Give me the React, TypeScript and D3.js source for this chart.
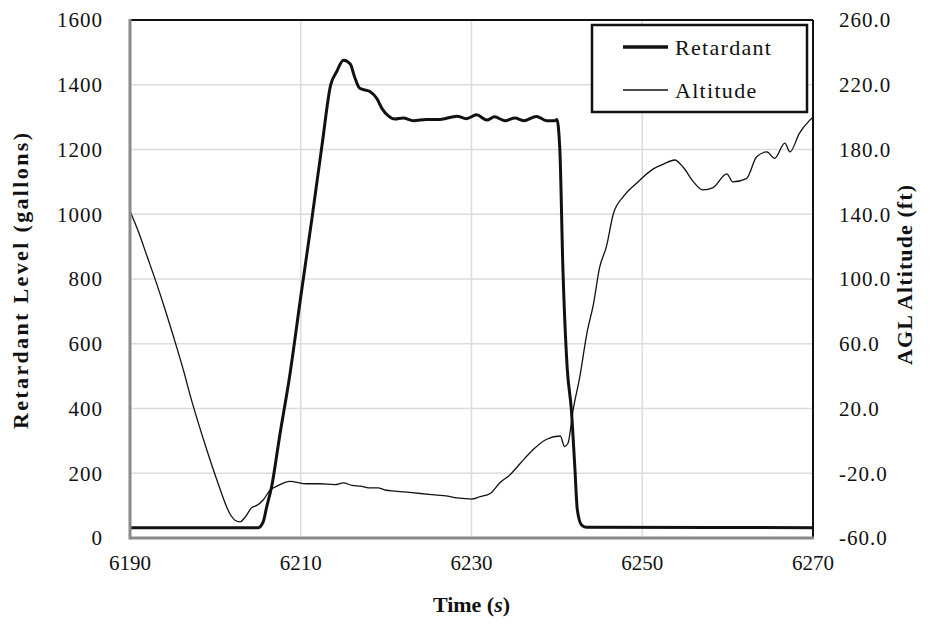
import React from 'react';
import * as d3 from 'd3';

// Retardant level (gallons) against time (s)
const retardantTime = [6190, 6205.0, 6205.6, 6206.0, 6206.6, 6207.5, 6208.7, 6210, 6211.3, 6212.5, 6213.5, 6214.2, 6215.0, 6215.8, 6216.3, 6216.9, 6218.1, 6218.9, 6219.5, 6220.3, 6221.0, 6222.0, 6223.2, 6224.7, 6226.3, 6228.3, 6229.4, 6230.6, 6231.8, 6232.7, 6233.9, 6235.1, 6236.1, 6237.6, 6238.8, 6239.8, 6240.0, 6240.35, 6240.7, 6241.2, 6241.7, 6242.1, 6242.4, 6242.9, 6243.5, 6270];
const retardantGallons = [32, 32, 50, 95, 160, 310, 500, 745, 985, 1215, 1399, 1440, 1476, 1464, 1425, 1389, 1379, 1358, 1327, 1303, 1294, 1297, 1289, 1293, 1293, 1303, 1295, 1307, 1291, 1301, 1289, 1297, 1289, 1302, 1289, 1289, 1293, 1198, 838, 529, 395, 220, 86, 40, 33, 32];

// AGL altitude (ft) against time (s)
const altitudeTime = [6190, 6191, 6192, 6193, 6194, 6195, 6196.4, 6197.0, 6198.6, 6200.3, 6201.7, 6202.3, 6202.9, 6203.5, 6204.3, 6204.8, 6205.6, 6206.4, 6207.4, 6208.7, 6210.7, 6212.2, 6214, 6215, 6216, 6217, 6218, 6219, 6220, 6221, 6222, 6223, 6224, 6225, 6226, 6227, 6228, 6229, 6230, 6231.0, 6232.2, 6233.3, 6234.5, 6235.7, 6237.2, 6238.8, 6240.4, 6240.9, 6241.3, 6241.9, 6242.7, 6243.5, 6244.3, 6245.0, 6245.8, 6246.6, 6247.8, 6249.3, 6251.3, 6252.5, 6253.8, 6254.8, 6256.0, 6257.1, 6258.3, 6259.9, 6260.6, 6262.2, 6263.4, 6264.6, 6265.5, 6266.7, 6267.3, 6268.4, 6269.6, 6270];
const altitudeFeet = [142, 129, 114, 99, 83, 66, 41, 29, 1, -26, -45, -49, -50, -47, -41, -40, -36.5, -30.5, -27.5, -25, -26.5, -26.5, -27, -26, -27.5, -28, -29, -29, -30.5, -31, -31.5, -32, -32.5, -33, -33.5, -34, -35, -35.5, -36, -34.5, -32.5, -26, -21, -14, -5.5, 1, 3, -3.5, -1.5, 19, 40, 66, 85, 107, 120, 140, 151, 159, 168, 171, 173.5, 169, 160, 155, 156.5, 165, 160, 162, 175.5, 178.5, 174.5, 184, 178.5, 190, 198, 200];

const timeTicks = [6190, 6210, 6230, 6250, 6270];
const gallonTicks = [0, 200, 400, 600, 800, 1000, 1200, 1400, 1600];
const altitudeTicks = [-60, -20, 20, 60, 100, 140, 180, 220, 260];

const W = 935;
const H = 624;
const plot = { left: 130, right: 813, top: 20, bottom: 538 };
const font = '"Liberation Serif", "Times New Roman", serif';

export default function App() {
  const x = d3.scaleLinear().domain([6190, 6270]).range([plot.left, plot.right]);
  const yL = d3.scaleLinear().domain([0, 1600]).range([plot.bottom, plot.top]);
  const yR = d3.scaleLinear().domain([-60, 260]).range([plot.bottom, plot.top]);

  const retLine = d3.line<number>()
    .x((d, i) => x(retardantTime[i]))
    .y(d => yL(d))
    .curve(d3.curveMonotoneX);
  const altLine = d3.line<number>()
    .x((d, i) => x(altitudeTime[i]))
    .y(d => yR(d))
    .curve(d3.curveMonotoneX);

  const midY = (plot.top + plot.bottom) / 2;

  return (
    <svg width={W} height={H} viewBox={`0 0 ${W} ${H}`}
      style={{ position: 'absolute', left: 0, top: 0, background: '#fff' }}
      fontFamily={font}>
      <rect x={0} y={0} width={W} height={H} fill="#fff" />

      {/* grid */}
      {gallonTicks.map(t => (
        <line key={'gy' + t} x1={plot.left} x2={plot.right} y1={yL(t)} y2={yL(t)}
          stroke="#dcdcdc" strokeWidth={1.5} />
      ))}
      {timeTicks.map(t => (
        <line key={'gx' + t} x1={x(t)} x2={x(t)} y1={plot.top} y2={plot.bottom}
          stroke="#dcdcdc" strokeWidth={1.5} />
      ))}

      {/* series */}
      <path d={altLine(altitudeFeet) || ''} fill="none" stroke="#111" strokeWidth={1.3} />
      <path d={retLine(retardantGallons) || ''} fill="none" stroke="#111" strokeWidth={3} strokeLinejoin="round" />

      {/* frame */}
      <line x1={plot.left} x2={plot.right} y1={plot.top} y2={plot.top} stroke="#111" strokeWidth={2} />
      <line x1={plot.right} x2={plot.right} y1={plot.top} y2={plot.bottom} stroke="#111" strokeWidth={2} />
      <line x1={plot.left} x2={plot.left} y1={plot.top - 1} y2={plot.bottom + 1.5} stroke="#8a8a8a" strokeWidth={3} />
      <line x1={plot.left} x2={plot.right + 1} y1={plot.bottom} y2={plot.bottom} stroke="#8a8a8a" strokeWidth={3} />

      {/* left axis labels */}
      {gallonTicks.map(t => (
        <text key={'lt' + t} x={103} y={yL(t)} dy="0.35em" textAnchor="end" fontSize={21} fill="#111"
          letterSpacing={1}>{t}</text>
      ))}
      {/* right axis labels */}
      {altitudeTicks.map(t => (
        <text key={'rt' + t} x={839} y={yR(t)} dy="0.35em" textAnchor="start" fontSize={21} fill="#111"
          letterSpacing={1}>{t.toFixed(1)}</text>
      ))}
      {/* bottom axis labels */}
      {timeTicks.map(t => (
        <text key={'bt' + t} x={x(t)} y={563} dy="0.35em" textAnchor="middle" fontSize={21} fill="#111">{t}</text>
      ))}

      {/* axis titles */}
      <text transform={`translate(28, ${midY + 2}) rotate(-90)`} textAnchor="middle"
        fontSize={22} fontWeight="bold" fill="#111" textLength={296} lengthAdjust="spacing">Retardant Level (gallons)</text>
      <text transform={`translate(912, ${midY - 4}) rotate(-90)`} textAnchor="middle"
        fontSize={22} fontWeight="bold" fill="#111" textLength={180} lengthAdjust="spacing">AGL Altitude (ft)</text>
      <text x={(plot.left + plot.right) / 2} y={612} textAnchor="middle" fontSize={22} fontWeight="bold" fill="#111">
        Time (<tspan fontStyle="italic">s</tspan>)
      </text>

      {/* legend */}
      <rect x={592} y={25} width={215} height={87} fill="#fff" stroke="#111" strokeWidth={2.5} />
      <line x1={623} x2={668} y1={47} y2={47} stroke="#111" strokeWidth={3.5} />
      <line x1={623} x2={668} y1={90} y2={90} stroke="#111" strokeWidth={1.3} />
      <text x={675} y={47} dy="0.35em" fontSize={22} fill="#111" letterSpacing={1.3}>Retardant</text>
      <text x={675} y={90} dy="0.35em" fontSize={22} fill="#111" letterSpacing={1.3}>Altitude</text>
    </svg>
  );
}
